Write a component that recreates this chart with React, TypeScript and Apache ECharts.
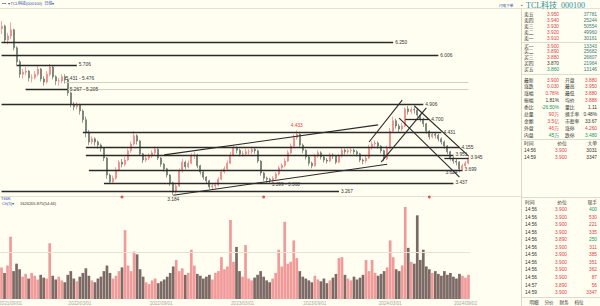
import React, { useEffect, useRef } from 'react';
import * as echarts from 'echarts';

// ---------- price data (weekly) ----------
const opens = [6.40,6.45,6.18,6.26,6.38,6.03,5.76,5.52,5.56,5.58, 5.45,5.45,5.52,5.62,5.43,5.37,5.52,5.66,5.47,5.39, 5.39,5.47,5.41,5.16,4.94,4.89,4.93,4.81,4.64,4.40, 4.21,4.27,4.21,4.15,4.09,3.90,3.57,3.44,3.51,3.67, 3.82,3.78,3.86,4.04,4.17,4.33,4.23,3.98,3.86,3.90, 3.94,4.00,4.07,3.90,3.78,3.69,3.57,3.42,3.24,3.36, 3.65,3.82,3.73,3.80,3.94,3.96,3.75,3.63,3.53,3.46, 3.34,3.36,3.38,3.49,3.63,3.69,3.80,3.96,4.09,4.05, 3.98,3.98,4.02,4.02,4.07,4.04,3.84,3.61,3.51,3.49, 3.47,3.51,3.59,3.71,3.76,3.84,4.00,4.13,4.29,4.36, 4.15,4.05,3.92,3.80,3.75,3.94,4.00,3.92,3.86,3.84, 3.96,3.94,3.82,3.94,4.05,4.02,4.04,4.05,4.02,3.98, 3.86,3.84,3.90,4.11,4.17,4.19,4.13,4.04,3.88,4.09, 4.42,4.62,4.52,4.46,4.52,4.85,4.80,4.84,4.83,4.73, 4.65,4.56,4.42,4.31,4.36,4.34,4.27,4.21,4.13,4.02, 3.90,3.84,3.82,3.69,3.75,3.80];
const closes = [6.45,6.18,6.26,6.38,6.03,5.76,5.52,5.56,5.58,5.45, 5.45,5.52,5.62,5.43,5.37,5.52,5.66,5.47,5.39,5.39, 5.47,5.41,5.16,4.94,4.89,4.93,4.81,4.64,4.40,4.21, 4.27,4.21,4.15,4.09,3.90,3.57,3.44,3.51,3.67,3.82, 3.78,3.86,4.04,4.17,4.33,4.23,3.98,3.86,3.90,3.94, 4.00,4.07,3.90,3.78,3.69,3.57,3.42,3.24,3.36,3.65, 3.82,3.73,3.80,3.94,3.96,3.75,3.63,3.53,3.46,3.34, 3.36,3.38,3.49,3.63,3.69,3.80,3.96,4.09,4.05,3.98, 3.98,4.02,4.02,4.07,4.04,3.84,3.61,3.51,3.49,3.47, 3.51,3.59,3.71,3.76,3.84,4.00,4.13,4.29,4.36,4.15, 4.05,3.92,3.80,3.75,3.94,4.00,3.92,3.86,3.84,3.96, 3.94,3.82,3.94,4.05,4.02,4.04,4.05,4.02,3.98,3.86, 3.84,3.90,4.11,4.17,4.19,4.13,4.04,3.88,4.09,4.42, 4.62,4.52,4.46,4.52,4.85,4.80,4.84,4.83,4.73,4.65, 4.56,4.42,4.31,4.36,4.34,4.27,4.21,4.13,4.02,3.90, 3.84,3.82,3.69,3.75,3.80,3.90];
const lows = [6.30,6.12,6.10,6.20,5.98,5.70,5.45,5.44,5.50,5.38, 5.36,5.42,5.48,5.38,5.30,5.34,5.48,5.42,5.31,5.30, 5.35,5.34,5.10,4.88,4.82,4.84,4.74,4.58,4.30,4.15, 4.16,4.14,4.08,4.02,3.84,3.50,3.40,3.41,3.48,3.64, 3.72,3.74,3.84,4.00,4.14,4.16,3.94,3.80,3.82,3.86, 3.90,3.96,3.86,3.73,3.64,3.52,3.36,3.184,3.21,3.34, 3.62,3.68,3.70,3.78,3.88,3.70,3.58,3.48,3.41,3.30, 3.29,3.31,3.35,3.47,3.60,3.66,3.78,3.93,3.99,3.93, 3.92,3.94,3.96,3.98,3.98,3.80,3.56,3.46,3.40,3.40, 3.43,3.48,3.56,3.68,3.72,3.82,3.97,4.10,4.25,4.10, 3.99,3.87,3.75,3.70,3.73,3.90,3.87,3.81,3.79,3.82, 3.88,3.78,3.80,3.91,3.97,3.98,3.99,3.97,3.93,3.82, 3.78,3.80,3.88,4.06,4.12,4.08,3.99,3.84,3.86,4.07, 4.40,4.47,4.40,4.42,4.50,4.74,4.75,4.76,4.68,4.60, 4.50,4.37,4.26,4.28,4.28,4.22,4.16,4.08,3.97,3.85, 3.79,3.76,3.624,3.66,3.72,3.78];
const highs = [6.55,6.48,6.32,6.52,6.40,6.06,5.80,5.62,5.66,5.60, 5.52,5.58,5.70,5.64,5.48,5.58,5.72,5.68,5.50,5.45, 5.52,5.52,5.43,5.18,4.98,4.98,4.95,4.84,4.70,4.44, 4.32,4.30,4.24,4.18,4.11,3.92,3.60,3.56,3.72,3.86, 3.88,3.92,4.08,4.22,4.42,4.36,4.25,4.00,3.96,3.99, 4.05,4.12,4.09,3.92,3.80,3.71,3.59,3.44,3.40,3.70, 3.88,3.85,3.85,3.99,4.02,3.98,3.77,3.65,3.55,3.48, 3.40,3.43,3.53,3.68,3.74,3.85,4.02,4.14,4.12,4.08, 4.04,4.08,4.07,4.12,4.10,4.06,3.86,3.63,3.54,3.52, 3.55,3.63,3.75,3.80,3.90,4.05,4.18,4.35,4.433,4.38, 4.18,4.07,3.94,3.83,3.98,4.05,4.03,3.95,3.90,4.00, 3.99,3.96,3.98,4.09,4.08,4.08,4.10,4.08,4.05,4.00, 3.89,3.95,4.16,4.22,4.24,4.22,4.15,4.06,4.14,4.48, 4.70,4.66,4.56,4.58,4.88,4.906,4.89,4.88,4.86,4.76, 4.68,4.58,4.44,4.40,4.40,4.37,4.30,4.24,4.15,4.04, 3.93,3.88,3.84,3.79,3.84,3.95];
const volumes = [34,28,36,67,30,38,32,24,27,22, 28,25,21,26,23,22,60,25,21,24, 20,18,26,30,22,19,24,28,33,25, 20,18,22,24,30,36,28,22,25,30, 34,74,36,30,51,48,32,24,18,16, 20,22,17,19,21,24,28,35,42,30, 33,26,28,53,36,27,25,22,24,26, 21,28,30,45,32,35,85,40,56,30, 24,58,22,20,23,26,30,24,20,18, 22,28,53,35,83,38,40,63,44,30, 24,22,20,18,25,21,19,22,17,20, 23,27,44,45,26,22,20,24,21,23, 26,42,30,42,28,25,27,30,34,63, 45,32,30,36,99,55,40,38,90,42, 53,35,32,28,30,27,25,30,26,28, 24,22,27,25,23,26];

const tickIndex = [3, 26, 53, 80, 104, 129, 154];
const tickText = ['2021/09/01', '2022/03/01', '2022/09/01', '2023/03/01', '2023/09/01', '2024/03/01', '2024/09/02'];

// drawn levels: [fromIndex, toIndex, price, label]
const levels: [number, number, number, string][] = [
  [0, 130, 6.14, '6.250'],
  [0, 145, 5.89, '6.006'],
  [5, 25, 5.70, '5.706'],
  [8, 22, 5.22, '5.267 - 5.205'],
  [0, 140, 4.93, '4.906'],
  [134, 142, 4.65, '4.700'],
  [27, 146, 4.40, '4.431'],
  [28, 152, 4.11, '4.155'],
  [28, 150, 3.96, '3.951'],
  [147, 155, 3.90, '3.945'],
  [29, 153, 3.67, '3.699'],
  [34, 150, 3.42, '3.437'],
  [0, 112, 3.26, '3.267'],
];
const lightLevels: [number, number, number, string][] = [
  [21, 155, 5.37, '5.431 - 5.476'],
  [22, 155, 5.22, ''],
];
// trend lines: [fromIndex, fromPrice, toIndex, toPrice]
const trends: [number, number, number, number][] = [
  [57, 3.18, 128, 3.78],
  [54, 3.96, 125, 4.54],
  [122, 4.21, 133, 5.02],
  [126, 3.82, 141, 4.87],
  [137, 4.91, 155, 3.94],
  [132, 4.67, 152, 3.53],
];
// price notes: [index, price, text]
const notes: [number, number, string][] = [
  [98, 4.433, '4.433'],
  [57, 3.184, '3.184'],
  [152, 3.624, '3.624'],
  [89, 3.38, '3.399 - 3.360'],
];
const eventIndex = [40, 87, 142];
const eventLevel = 3.145;

// ---------- quote panel ----------
const prevClose = 3.87;
const askLabels = ['卖五', '卖四', '卖三', '卖二', '卖一'];
const askPrices = ['3.950', '3.940', '3.930', '3.920', '3.910'];
const askVols = ['37781', '25244', '50554', '49960', '30161'];
const bidLabels = ['买一', '买二', '买三', '买四', '买五'];
const bidPrices = ['3.900', '3.890', '3.880', '3.870', '3.860'];
const bidVols = ['13343', '25682', '26807', '21964', '13146'];
const statRows = [
  ['最新', '3.900', '开盘', '3.880'],
  ['涨跌', '0.030', '最高', '3.950'],
  ['涨幅', '0.78%', '最低', '3.880'],
  ['振幅', '1.81%', '均价', '3.888'],
  ['委比', '-26.50%', '量比', '1.11'],
  ['总量', '90万', '换手率', '0.48%'],
  ['金额', '3.5亿', '市盈率', '33.67'],
  ['外盘', '46万', '涨停', '4.260'],
  ['内盘', '45万', '跌停', '3.480'],
];
const bigTimes = ['14:56', '14:59'];
const bigPrices = ['3.900', '3.900'];
const bigVols = ['3031', '3347'];
const tradeTimes = ['14:56','14:56','14:56','14:56','14:56','14:56','14:56','14:56','14:56','14:56','14:57','14:59'];
const tradePrices = ['3.900','3.900','3.900','3.900','3.890','3.900','3.900','3.900','3.900','3.900','3.890','3.900'];
const tradeVols = ['400','530','221','335','250','311','385','351','362','87','56','3347'];
const tradeSide = ['S','B','B','B','S','B','B','B','B','B','B','B'];
const buttons = ['明细', '分价', '财务', '档位'];

const FONT = '"Liberation Sans", "Noto Sans CJK SC", sans-serif';
const RED = '#e5404a';
const GREEN = '#17946c';
const DARK = '#333333';
const TEAL = '#3a7d80';
const BLUE = '#2b4fa8';
const UP = '#ec7f7f';
const DOWN = '#66766a';
const VUP = '#f29a9a';
const VDOWN = '#7b6a66';

function txt(x: number, y: number, text: string, fill: string, size = 4.8, align = 'left', family = FONT): any {
  return { type: 'text', x, y, silent: true, style: { text, fill, fontSize: size, fontFamily: family, align, verticalAlign: 'middle' } };
}
function hl(x1: number, x2: number, y: number, stroke = '#dcdcd0'): any {
  return { type: 'line', silent: true, shape: { x1, y1: y, x2, y2: y }, style: { stroke, lineWidth: 1 } };
}
function vl(x: number, y1: number, y2: number, stroke = '#dcdcd0'): any {
  return { type: 'line', silent: true, shape: { x1: x, y1, x2: x, y2 }, style: { stroke, lineWidth: 1 } };
}
function pc(p: string) {
  const v = parseFloat(p);
  return v > prevClose ? RED : v < prevClose ? GREEN : DARK;
}

export default function App() {
  const ref = useRef<HTMLDivElement>(null);
  useEffect(() => {
    const chart = echarts.init(ref.current!, null, { renderer: 'svg' });
    const categories = closes.map((_, i) => String(i));
    const candles = closes.map((c, i) => [opens[i], c, lows[i], highs[i]]);
    const vols = volumes.map((v, i) => ({ value: v, itemStyle: { color: closes[i] >= opens[i] ? VUP : VDOWN } }));

    const lblBase = { fontSize: 4.8, color: DARK, fontFamily: FONT, distance: 2 };
    const markLines: any[] = [];
    levels.forEach(([a, b, p, t]) => {
      markLines.push([
        { coord: [a, p], lineStyle: { color: '#2a2a2a', width: 1.3, type: 'solid' }, label: { ...lblBase, show: true, position: 'end', formatter: t } },
        { coord: [b, p] },
      ]);
    });
    lightLevels.forEach(([a, b, p, t]) => {
      markLines.push([
        { coord: [a, p], lineStyle: { color: '#d0d0c8', width: 1, type: 'solid' }, label: { ...lblBase, show: t !== '', position: 'insideStartTop', formatter: t, distance: 1 } },
        { coord: [b, p] },
      ]);
    });
    trends.forEach(([a, pa, b, pb]) => {
      markLines.push([
        { coord: [a, pa], lineStyle: { color: '#2a2a2a', width: 1.1, type: 'solid' }, label: { show: false } },
        { coord: [b, pb] },
      ]);
    });

    const markPoints = notes.map(([i, p, t], k) => ({
      coord: [i, p],
      symbol: 'circle',
      symbolSize: 0.1,
      label: {
        show: true,
        formatter: t,
        fontSize: 4.8,
        fontFamily: FONT,
        color: k === 0 ? RED : DARK,
        position: k === 0 ? 'top' : k === 1 ? 'bottom' : k === 2 ? 'left' : 'right',
        distance: 2,
      },
    }));

    const g: any[] = [];
    g.push(hl(0, 600, 8.5, '#e4e2d6'));
    g.push(hl(0, 521, 196.5, '#e4e2d6'));
    g.push(vl(521.5, 9, 306, '#d8d8cc'));
    g.push(txt(2, 3.5, '▪▪▪  ▾TCL科技(000100)  日线▾', BLUE, 4));
    g.push(txt(499, 6, '闪电下单', BLUE, 3.6));
    g.push(txt(1, 198.5, 'T66K', BLUE, 4));
    g.push(txt(2, 203, 'Ch(5)▾', BLUE, 4));
    g.push(txt(20, 203, '1626205.875(54:46)', DARK, 4));
    g.push(txt(521, 5, '▪', TEAL, 5));
    g.push(txt(526, 5, 'TCL科技  000100', '#2b8f9c', 8, 'left', '"Liberation Serif", "Noto Sans CJK SC", serif'));
    askLabels.forEach((l, k) => {
      const y = 14 + 6 * k;
      g.push(txt(524, y, l, DARK, 4.8));
      g.push(txt(559, y, askPrices[k], pc(askPrices[k]), 4.8, 'right'));
      g.push(txt(597, y, askVols[k], TEAL, 4.8, 'right'));
    });
    g.push(hl(522, 600, 42.5));
    bidLabels.forEach((l, k) => {
      const y = 46 + 5.85 * k;
      g.push(txt(524, y, l, DARK, 4.8));
      g.push(txt(559, y, bidPrices[k], pc(bidPrices[k]), 4.8, 'right'));
      g.push(txt(597, y, bidVols[k], TEAL, 4.8, 'right'));
    });
    g.push(hl(522, 600, 74.5));
    const statColors = [[RED, RED], [RED, RED], [RED, RED], [DARK, RED], [GREEN, DARK], [RED, DARK], [RED, DARK], [RED, RED], [GREEN, GREEN]];
    statRows.forEach((r, k) => {
      const y = 80 + 6.9 * k;
      g.push(txt(524, y, r[0], DARK, 4.8));
      g.push(txt(559, y, r[1], statColors[k][0], 4.8, 'right'));
      g.push(txt(565, y, r[2], DARK, 4.8));
      g.push(txt(597, y, r[3], statColors[k][1], 4.8, 'right'));
    });
    g.push(hl(522, 600, 139.5));
    g.push(txt(524, 143.5, '时间', DARK, 4.8));
    g.push(txt(562, 143.5, '价位', DARK, 4.8, 'center'));
    g.push(txt(597, 143.5, '大单', DARK, 4.8, 'right'));
    bigTimes.forEach((t, k) => {
      const y = 150 + 7.2 * k;
      g.push(txt(524, y, t, DARK, 4.8));
      g.push(txt(567, y, bigPrices[k], pc(bigPrices[k]), 4.8, 'right'));
      g.push(txt(597, y, bigVols[k], DARK, 4.8, 'right'));
    });
    g.push(hl(522, 600, 197.5));
    g.push(txt(525, 202.5, '时间', DARK, 4.8));
    g.push(txt(562, 202.5, '价位', DARK, 4.8, 'center'));
    g.push(txt(597, 202.5, '现手', DARK, 4.8, 'right'));
    tradeTimes.forEach((t, k) => {
      const y = 209.5 + 7.55 * k;
      g.push(txt(525, y, t, DARK, 4.8));
      g.push(txt(567, y, tradePrices[k], pc(tradePrices[k]), 4.8, 'right'));
      g.push(txt(597, y, tradeVols[k], tradeSide[k] === 'S' ? GREEN : RED, 4.8, 'right'));
    });
    g.push(hl(522, 600, 297.5));
    buttons.forEach((b, k) => {
      g.push(txt(534 + 15 * k, 302, b, DARK, 4.6, 'center'));
    });

    chart.setOption({
      animation: false,
      backgroundColor: '#fffef0',
      grid: [
        { left: 0, top: 8, width: 470, height: 188, outerBoundsMode: 'none' },
        { left: 0, top: 206, width: 470, height: 93, outerBoundsMode: 'none' },
      ],
      xAxis: [
        { type: 'category', gridIndex: 0, data: categories, boundaryGap: true, axisLine: { show: false }, axisTick: { show: false }, axisLabel: { show: false }, splitLine: { show: false } },
        {
          type: 'category', gridIndex: 1, data: categories, boundaryGap: true,
          axisLine: { show: false }, axisTick: { show: false }, splitLine: { show: false },
          axisLabel: {
            show: true, fontSize: 4.6, color: '#a8a8a0', fontFamily: FONT, margin: 2,
            interval: (idx: number) => tickIndex.indexOf(idx) >= 0,
            formatter: (_v: string, idx: number) => {
              const k = tickIndex.indexOf(idx);
              return k >= 0 ? tickText[k] : '';
            },
          },
        },
      ],
      yAxis: [
        { type: 'value', gridIndex: 0, min: 3.165, max: 6.801, show: false, splitLine: { show: false } },
        { type: 'value', gridIndex: 1, min: 0, max: 100, show: false, splitLine: { show: false } },
      ],
      series: [
        {
          type: 'candlestick',
          xAxisIndex: 0,
          yAxisIndex: 0,
          data: candles,
          barWidth: 1.5,
          itemStyle: { color: UP, color0: DOWN, borderColor: UP, borderColor0: DOWN, borderWidth: 0.7 },
          markLine: { silent: true, symbol: ['none', 'none'], animation: false, lineStyle: { type: 'solid' }, data: markLines },
          markPoint: { silent: true, animation: false, data: markPoints },
        },
        {
          type: 'scatter',
          xAxisIndex: 0,
          yAxisIndex: 0,
          clip: false,
          symbolSize: 3,
          itemStyle: { color: '#d83030' },
          data: eventIndex.map((i) => [i, eventLevel]),
        },
        {
          type: 'bar',
          xAxisIndex: 1,
          yAxisIndex: 1,
          data: vols,
          barWidth: 2.7,
          markLine: {
            silent: true, symbol: ['none', 'none'], animation: false,
            label: { show: false },
            lineStyle: { color: '#e6e3d4', width: 1, type: 'solid' },
            data: [{ yAxis: 50 }],
          },
        },
      ],
      graphic: g,
    });
    return () => chart.dispose();
  }, []);
  return <div ref={ref} style={{ position: 'absolute', left: 0, top: 0, width: 600, height: 306 }} />;
}
